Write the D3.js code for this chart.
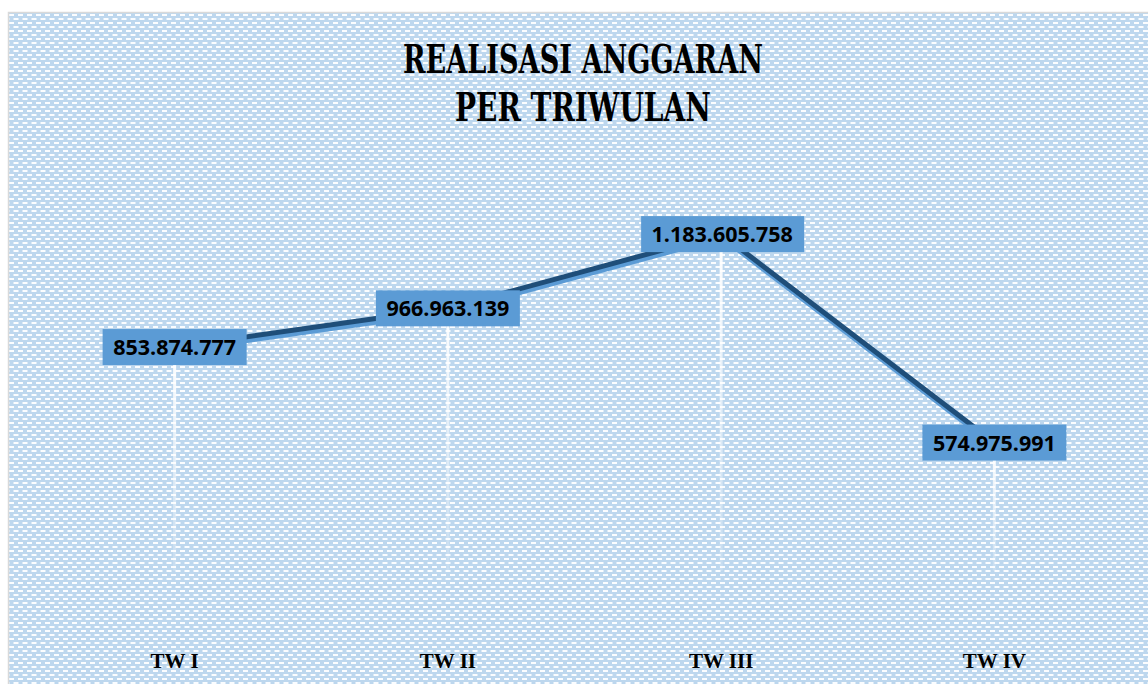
<!DOCTYPE html>
<html>
<head>
<meta charset="utf-8">
<script src="https://cdn.jsdelivr.net/npm/d3@7"></script>
<style>
  body { margin: 0; background: #fff; }
  svg { display: block; }
</style>
</head>
<body>
<div id="chart-area"></div>
<script>
// Data
const categories = ["TW I", "TW II", "TW III", "TW IV"]
const values = [853874777, 966963139, 1183605758, 574975991]
const titleLines = ["REALISASI ANGGARAN", "PER TRIWULAN"]

// Config
const W = 1148, H = 684
const plot = {left: 38, right: 1131, top: 160, bottom: 571}

const svg = d3.select("#chart-area")
  .append("svg")
    .attr("width", W)
    .attr("height", H)

const defs = svg.append("defs")

// background pattern (white dashes on light blue)
const pat = defs.append("pattern")
  .attr("id", "dash")
  .attr("patternUnits", "userSpaceOnUse")
  .attr("x", 9).attr("y", 13)
  .attr("width", 9).attr("height", 8)
pat.append("rect").attr("width", 9).attr("height", 8).attr("fill", "#bdd7ee")
pat.append("rect").attr("x", 0).attr("y", 1).attr("width", 5).attr("height", 2).attr("fill", "#fbfdff")
pat.append("rect").attr("x", 4.5).attr("y", 5).attr("width", 4.5).attr("height", 2).attr("fill", "#fbfdff")
pat.append("rect").attr("x", 0).attr("y", 5).attr("width", 0.5).attr("height", 2).attr("fill", "#fbfdff")

const fade = defs.append("linearGradient")
  .attr("id", "fade")
  .attr("x1", 0).attr("y1", 0).attr("x2", 0).attr("y2", 1)
fade.append("stop").attr("offset", "0%").attr("stop-color", "#fff").attr("stop-opacity", 1)
fade.append("stop").attr("offset", "100%").attr("stop-color", "#fff").attr("stop-opacity", 0.15)

// Chart frame
svg.append("rect")
  .attr("x", 8.5).attr("y", 12.5)
  .attr("width", W + 10).attr("height", H + 10)
  .attr("fill", "url(#dash)")
  .attr("stroke", "#d9d9d9")
  .attr("stroke-width", 1.5)

// Title
svg.selectAll(".title")
  .data(titleLines)
  .join("text")
    .attr("class", "title")
    .attr("x", 583)
    .attr("y", (d, i) => 73 + i * 48)
    .attr("text-anchor", "middle")
    .attr("font-family", "'DejaVu Serif Condensed', 'DejaVu Serif', serif")
    .attr("font-weight", "bold")
    .attr("font-size", 40)
    .attr("textLength", (d, i) => i === 0 ? 360 : 256)
    .attr("lengthAdjust", "spacingAndGlyphs")
    .attr("fill", "#000")
    .text(d => d)

// Scales
const x = d3.scaleBand().domain(categories).range([plot.left, plot.right])
const y = d3.scaleLinear().domain([200000000, 1400000000]).range([plot.bottom, plot.top])
const cx = d => x(d) + x.bandwidth() / 2

const data = categories.map((c, i) => ({cat: c, value: values[i]}))

// Category axis labels
const xAxis = d3.axisBottom(x).tickSize(0).tickPadding(0)
const gx = svg.append("g")
  .attr("transform", "translate(0, 653)")
  .call(xAxis)
gx.select(".domain").remove()
gx.selectAll("text")
  .attr("font-family", "'Liberation Serif', serif")
  .attr("font-weight", "bold")
  .attr("font-size", 21)
  .attr("fill", "#000")

// Drop lines
svg.selectAll(".drop")
  .data(data)
  .join("rect")
    .attr("class", "drop")
    .attr("x", d => cx(d.cat) - 1.5)
    .attr("y", d => y(d.value))
    .attr("width", 3)
    .attr("height", d => y.range()[0] - y(d.value))
    .attr("fill", "url(#fade)")

// Line with shadow
const line = d3.line().x(d => cx(d.cat)).y(d => y(d.value))
svg.append("path")
  .attr("d", line(data))
  .attr("transform", "translate(1, 3.5)")
  .attr("fill", "none")
  .attr("stroke", "#5b9bd5")
  .attr("stroke-width", 5)
svg.append("path")
  .attr("d", line(data))
  .attr("fill", "none")
  .attr("stroke", "#1f4e79")
  .attr("stroke-width", 5)

// Data labels
const fmt = v => d3.format(",")(v).replace(/,/g, ".")
const lab = svg.selectAll(".lab")
  .data(data)
  .join("g")
    .attr("class", "lab")
    .attr("transform", d => `translate(${cx(d.cat)}, ${y(d.value)})`)
lab.append("rect")
  .attr("x", d => d.value >= 1e9 ? -80 : -72)
  .attr("y", -18)
  .attr("width", d => d.value >= 1e9 ? 163 : 144)
  .attr("height", 36)
  .attr("fill", "#5b9bd5")
lab.append("text")
  .attr("x", d => d.value >= 1e9 ? 1 : 0)
  .attr("y", 8)
  .attr("text-anchor", "middle")
  .attr("font-family", "'Open Sans', sans-serif")
  .attr("font-weight", "bold")
  .attr("font-size", 21.5)
  .attr("fill", "#000")
  .text(d => fmt(d.value))
</script>
</body>
</html>
